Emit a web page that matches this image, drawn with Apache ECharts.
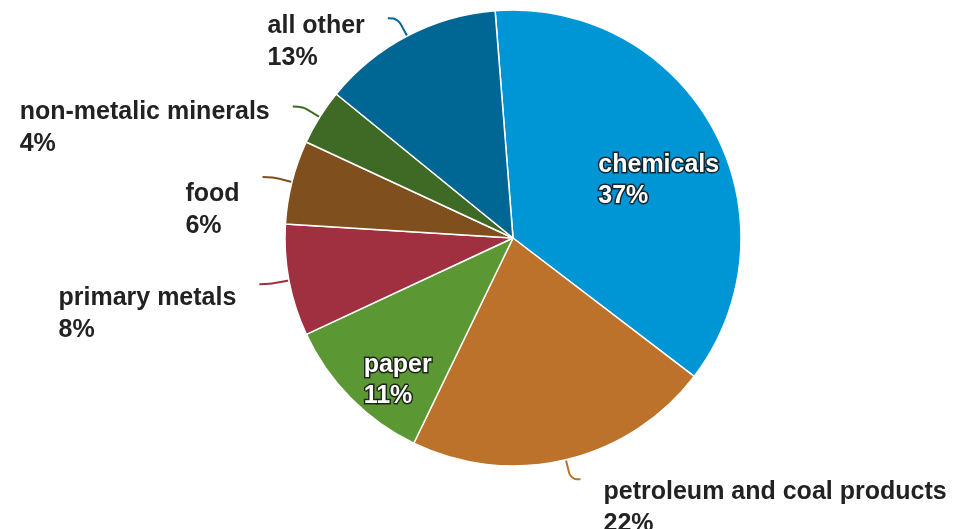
<!DOCTYPE html>
<html>
<head>
<meta charset="utf-8">
<script src="https://cdn.jsdelivr.net/npm/echarts@6/dist/echarts.min.js"></script>
<style>
  html, body { margin: 0; padding: 0; background: #ffffff; }
  #chart { width: 957px; height: 529px; }
</style>
</head>
<body>
<div id="chart"></div>
<script>
// Industry shares, listed clockwise from the top of the pie
const categories = ['chemicals', 'petroleum and coal products', 'paper', 'primary metals', 'food', 'non-metalic minerals', 'all other'];
const shares = [37, 22, 11, 8, 6, 4, 13];
const sliceColors = ['#0096d6', '#bc722b', '#5b9733', '#a02f40', '#7f4f1e', '#3f6a25', '#006794'];

// Slices whose label sits inside the wedge, with a nudge away from the default inner spot
const insideLabelNudge = {
  'chemicals': [43, -1],
  'paper': [-32, 60]
};

// Extra top padding for outside labels, so the connector meets the first text line
const outsideLabelTopPad = {
  'petroleum and coal products': 58,
  'primary metals': 60,
  'food': 66,
  'non-metalic minerals': 44,
  'all other': 48
};

const FONT = '"Liberation Sans", Arial, sans-serif';
const formatLabel = p => '{n|' + p.name + '}\n{v|' + p.value + '%}';

function outsideLabel(name) {
  const textStyle = { fontFamily: FONT, fontSize: 25, fontWeight: 'bold', color: '#222222', lineHeight: 32, align: 'left' };
  return {
    show: true,
    position: 'outside',
    formatter: formatLabel,
    padding: [outsideLabelTopPad[name] || 48, 0, 0, 0],
    distanceToLabelLine: 23,
    rich: { n: textStyle, v: textStyle }
  };
}

function insideLabel() {
  const textStyle = {
    fontFamily: FONT, fontSize: 25, fontWeight: 'bold', color: '#ffffff', lineHeight: 31, align: 'left',
    textBorderColor: 'rgba(20,20,20,0.85)', textBorderWidth: 3
  };
  return {
    show: true,
    position: 'inside',
    formatter: formatLabel,
    rich: { n: textStyle, v: textStyle }
  };
}

const pieData = categories.map((name, i) => {
  const inside = insideLabelNudge[name] !== undefined;
  return {
    name: name,
    value: shares[i],
    itemStyle: { color: sliceColors[i] },
    label: inside ? insideLabel() : outsideLabel(name),
    labelLine: { show: !inside }
  };
});

const chart = echarts.init(document.getElementById('chart'), null, { renderer: 'canvas' });

chart.setOption({
  backgroundColor: '#ffffff',
  animation: false,
  series: [{
    type: 'pie',
    center: [513, 238],
    radius: 228,
    startAngle: 94.5,
    clockwise: true,
    avoidLabelOverlap: false,
    silent: true,
    data: pieData,
    itemStyle: { borderColor: '#ffffff', borderWidth: 1.5 },
    labelLine: {
      length: 20,
      length2: 10,
      smooth: 0.4,
      lineStyle: { width: 2 }
    },
    labelLayout: params => {
      const nudge = insideLabelNudge[categories[params.dataIndex]];
      return nudge ? { dx: nudge[0], dy: nudge[1] } : {};
    }
  }]
});
</script>
</body>
</html>
